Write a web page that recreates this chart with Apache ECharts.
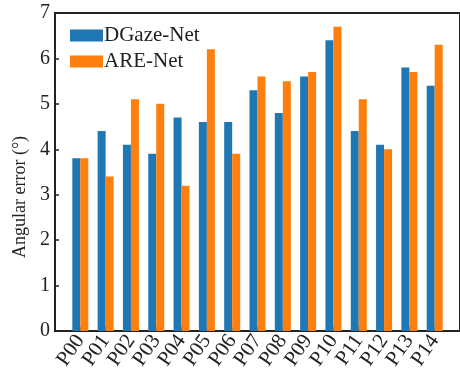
<!DOCTYPE html>
<html>
<head>
<meta charset="utf-8">
<script src="https://cdn.jsdelivr.net/npm/echarts@6/dist/echarts.min.js"></script>
<style>
  html, body { margin: 0; padding: 0; background: #fff; }
  #chart { width: 460px; height: 376px; }
</style>
</head>
<body>
<div id="chart"></div>
<script>
// Per-subject angular error of the two gaze estimators
const subjects = ['P00','P01','P02','P03','P04','P05','P06','P07','P08','P09','P10','P11','P12','P13','P14'];
const dgazeNet = [3.8, 4.4, 4.1, 3.9, 4.7, 4.6, 4.6, 5.3, 4.8, 5.6, 6.4, 4.4, 4.1, 5.8, 5.4];
const areNet   = [3.8, 3.4, 5.1, 5.0, 3.2, 6.2, 3.9, 5.6, 5.5, 5.7, 6.7, 5.1, 4.0, 5.7, 6.3];
const yTicks = [0, 1, 2, 3, 4, 5, 6, 7];

const serif = '"Liberation Serif", "DejaVu Serif", serif';

const chart = echarts.init(document.getElementById('chart'), null, { renderer: 'canvas' });

const toPairs = arr => arr.map((v, i) => [i, v]);

chart.setOption({
  animation: false,
  backgroundColor: '#fff',
  grid: {
    left: 55, top: 13, right: -5, bottom: 45,
    show: true, borderColor: '#222', borderWidth: 2, backgroundColor: 'transparent'
  },
  legend: {
    orient: 'vertical',
    left: 70, top: 25, padding: 0,
    itemWidth: 33, itemHeight: 12, itemGap: 5,
    icon: 'rect',
    textStyle: { fontFamily: serif, fontSize: 21, color: '#222', padding: [0, 0, 0, -4] },
    data: ['DGaze-Net', 'ARE-Net']
  },
  xAxis: {
    type: 'value',
    min: -1, max: 15, interval: 1,
    splitLine: { show: false },
    axisLine: { show: true, onZero: false, lineStyle: { color: '#222', width: 2 } },
    axisTick: {
      show: true, inside: true, length: 4,
      lineStyle: { color: '#222', width: 1.5 }
    },
    axisLabel: {
      rotate: 55, margin: 6,
      fontFamily: serif, fontSize: 21, color: '#222',
      showMinLabel: false, showMaxLabel: false,
      formatter: v => (v >= 0 && v < subjects.length ? subjects[v] : '')
    }
  },
  yAxis: {
    type: 'value',
    min: yTicks[0], max: yTicks[yTicks.length - 1], interval: 1,
    name: 'Angular error (°)',
    nameLocation: 'middle',
    nameGap: 24,
    nameTextStyle: { fontFamily: serif, fontSize: 18, color: '#222', padding: [0, 50, 0, 0] },
    splitLine: { show: false },
    axisLine: { show: true, onZero: false, lineStyle: { color: '#222', width: 2 } },
    axisTick: { show: true, inside: true, length: 4, lineStyle: { color: '#222', width: 1.5 } },
    axisLabel: { fontFamily: serif, fontSize: 20, color: '#222', margin: 5 }
  },
  series: [
    {
      name: 'DGaze-Net', type: 'bar', data: toPairs(dgazeNet),
      barWidth: 8, barGap: '0%',
      itemStyle: { color: '#1f77b4' }
    },
    {
      name: 'ARE-Net', type: 'bar', data: toPairs(areNet),
      barWidth: 8, barGap: '0%',
      itemStyle: { color: '#ff7f0e' }
    }
  ]
});
</script>
</body>
</html>
